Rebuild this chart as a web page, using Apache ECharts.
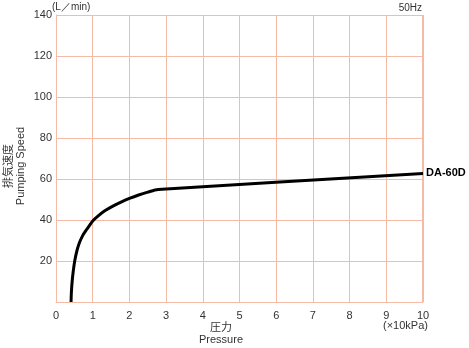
<!DOCTYPE html>
<html><head><meta charset="utf-8">
<script src="https://cdn.jsdelivr.net/npm/echarts@6/dist/echarts.min.js"></script>
<style>html,body{margin:0;padding:0;background:#fff}#c{width:469px;height:348px}</style>
</head><body><div id="c"></div>
<script>
var pressure = [0.41, 0.42, 0.44, 0.47, 0.51, 0.57, 0.64, 0.73, 0.82, 0.92, 1.00, 1.15, 1.33, 1.55, 1.80, 2.00, 2.25, 2.50, 2.78, 10.00];
var speed    = [0,    5,    10,   15,   20,   25,   29,   32.5, 35,   37.5, 39.5, 42,   44.5, 46.8, 49,   50.5, 52.2, 53.6, 54.9, 62.7];
var xTicks = [0,1,2,3,4,5,6,7,8,9,10];
var yTicks = [20,40,60,80,100,120,140];
var seriesName = 'DA-60D';

var data = pressure.map(function(p,i){return [p, speed[i]];});
var chart = echarts.init(document.getElementById('c'));
var grid = '#f6bba4';
var font = 'Liberation Sans, Arial, sans-serif';
chart.setOption({
  animation:false,
  grid:{left:56,top:15,right:46,bottom:46,containLabel:false},
  xAxis:{type:'value',min:0,max:10,interval:1,
    axisLine:{show:true,lineStyle:{color:grid,width:1}},
    axisTick:{show:false},
    splitLine:{show:true,lineStyle:{color:grid,width:1}},
    axisLabel:{color:'#333',fontSize:11,fontFamily:font,margin:8,
      formatter:function(v){return xTicks.indexOf(v)>=0?String(v):'';}}
  },
  yAxis:{type:'value',min:0,max:140,interval:20,
    axisLine:{show:true,lineStyle:{color:grid,width:1}},
    axisTick:{show:false},
    splitLine:{show:true,lineStyle:{color:grid,width:1}},
    axisLabel:{color:'#333',fontSize:11,fontFamily:font,margin:4,
      formatter:function(v){return yTicks.indexOf(v)>=0?String(v):'';}}
  },
  graphic:[
    {type:'rect',shape:{x:56.5,y:15.5,width:366,height:287},style:{fill:'none',stroke:grid,lineWidth:1},silent:true,z:0},
    {type:'text',left:52,top:2,style:{text:'(L／min)',fill:'#333',fontSize:10,fontFamily:font}},
    {type:'text',right:47,top:3,style:{text:'50Hz',fill:'#333',fontSize:10,fontFamily:font}},
    {type:'text',left:383,top:320,style:{text:'(×10kPa)',fill:'#333',fontSize:11,fontFamily:font}},
    {type:'text',left:210,top:321,style:{text:'圧力',fill:'#333',fontSize:11,fontFamily:'Noto Sans CJK JP'}},
    {type:'text',left:199,top:334,style:{text:'Pressure',fill:'#333',fontSize:11,fontFamily:font}},
    {type:'text',x:8,y:166,rotation:Math.PI/2,style:{text:'排気速度',fill:'#333',fontSize:11,fontFamily:'Noto Sans CJK JP',align:'center',verticalAlign:'middle'}},
    {type:'text',x:21,y:166,rotation:Math.PI/2,style:{text:'Pumping Speed',fill:'#333',fontSize:11,fontFamily:font,align:'center',verticalAlign:'middle'}}
  ],
  series:[{
    name:seriesName,type:'line',data:data,smooth:0.25,
    showSymbol:false,lineStyle:{color:'#000',width:3,join:'round',cap:'butt'},
    endLabel:{show:true,formatter:seriesName,color:'#000',fontWeight:'bold',fontSize:11,
      fontFamily:font,distance:3}
  }]
});
</script></body></html>
